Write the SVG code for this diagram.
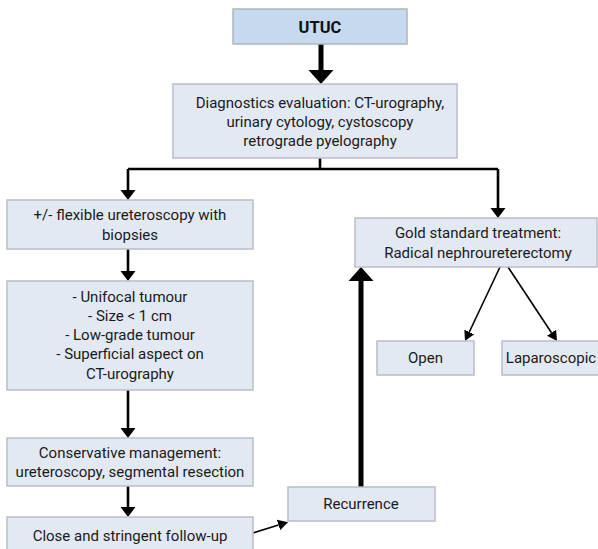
<svg xmlns="http://www.w3.org/2000/svg" width="598" height="549" viewBox="0 0 598 549">
<style>
.box{fill:#e2e9f3;stroke:#b9bec6;stroke-width:1.5}
.top{fill:#c6d9ee;stroke:#b0b5bc;stroke-width:1.5}
text{font-family:Roboto,"Liberation Sans",Arial,sans-serif;font-size:15px;fill:#1a1a1a;text-anchor:middle}
.b{font-weight:bold;font-size:16.5px;fill:#111}
.c{fill:none;stroke:#000}
.thick{stroke-width:5}
.med{stroke-width:2.6}
.thin{stroke-width:1.6}
</style>
<defs>
<marker id="hb" markerUnits="userSpaceOnUse" markerWidth="16" markerHeight="26" refX="0" refY="13" orient="auto" viewBox="0 0 16 26">
<path d="M0,0.5 L14,13 L0,25.5 z" fill="#000"/>
</marker>
<marker id="hm" markerUnits="userSpaceOnUse" markerWidth="11" markerHeight="16" refX="0" refY="8" orient="auto" viewBox="0 0 11 16">
<path d="M0,0.5 L10,8 L0,15.5 z" fill="#000"/>
</marker>
<marker id="hs" markerUnits="userSpaceOnUse" markerWidth="11" markerHeight="12" refX="0" refY="6" orient="auto" viewBox="0 0 11 12">
<path d="M0,0.5 L10,6 L0,11.5 z" fill="#000"/>
</marker>
</defs>

<g id="connectors">
<path class="c thick" d="M321,44 V70" marker-end="url(#hb)"/>
<path class="c med" d="M320,158 V169"/>
<path class="c med" d="M128,169 H498" stroke-width="3"/>
<path class="c med" d="M128,169 V190" marker-end="url(#hm)"/>
<path class="c med" d="M498,169 V208" marker-end="url(#hm)"/>
<path class="c med" d="M128,249 V271" marker-end="url(#hm)"/>
<path class="c med" d="M128,390 V428" marker-end="url(#hm)"/>
<path class="c med" d="M128,486 V507" marker-end="url(#hm)"/>
<path class="c thin" d="M253,533 L278.5,525.1" marker-end="url(#hs)"/>
<path class="c thick" d="M361,487 V281" marker-end="url(#hb)"/>
<path class="c thin" d="M500,267 L469.3,332" marker-end="url(#hs)"/>
<path class="c thin" d="M508,267 L551.5,332.7" marker-end="url(#hs)"/>
</g>

<g id="utuc">
<rect class="top" x="233" y="9" width="174" height="35"/>
<text class="b" x="320" y="33">UTUC</text>
</g>

<g id="diagnostics">
<rect class="box" x="173" y="84" width="284" height="74"/>
<text x="320" y="108">Diagnostics evaluation: CT-urography,</text>
<text x="320" y="127">urinary cytology, cystoscopy</text>
<text x="320" y="146">retrograde pyelography</text>
</g>

<g id="flexible">
<rect class="box" x="7" y="200" width="246" height="49"/>
<text x="130" y="220">+/- flexible ureteroscopy with</text>
<text x="130" y="240">biopsies</text>
</g>

<g id="criteria">
<rect class="box" x="7" y="281" width="246" height="109"/>
<text x="130" y="302">- Unifocal tumour</text>
<text x="130" y="321">- Size &lt; 1 cm</text>
<text x="130" y="340">- Low-grade tumour</text>
<text x="130" y="359">- Superficial aspect on</text>
<text x="130" y="379">CT-urography</text>
</g>

<g id="conservative">
<rect class="box" x="7" y="438" width="246" height="48"/>
<text x="130" y="458">Conservative management:</text>
<text x="130" y="477">ureteroscopy, segmental resection</text>
</g>

<g id="followup">
<rect class="box" x="7" y="517" width="246" height="40"/>
<text x="130" y="541">Close and stringent follow-up</text>
</g>

<g id="recurrence">
<rect class="box" x="288" y="487" width="147" height="34"/>
<text x="361" y="509">Recurrence</text>
</g>

<g id="gold">
<rect class="box" x="355" y="218" width="242" height="49"/>
<text x="478" y="238">Gold standard treatment:</text>
<text x="478" y="258">Radical nephroureterectomy</text>
</g>

<g id="open">
<rect class="box" x="377" y="341" width="97" height="34"/>
<text x="425.5" y="363">Open</text>
</g>

<g id="laparoscopic">
<rect class="box" x="502" y="341" width="100" height="34"/>
<text x="551" y="363">Laparoscopic</text>
</g>
</svg>
